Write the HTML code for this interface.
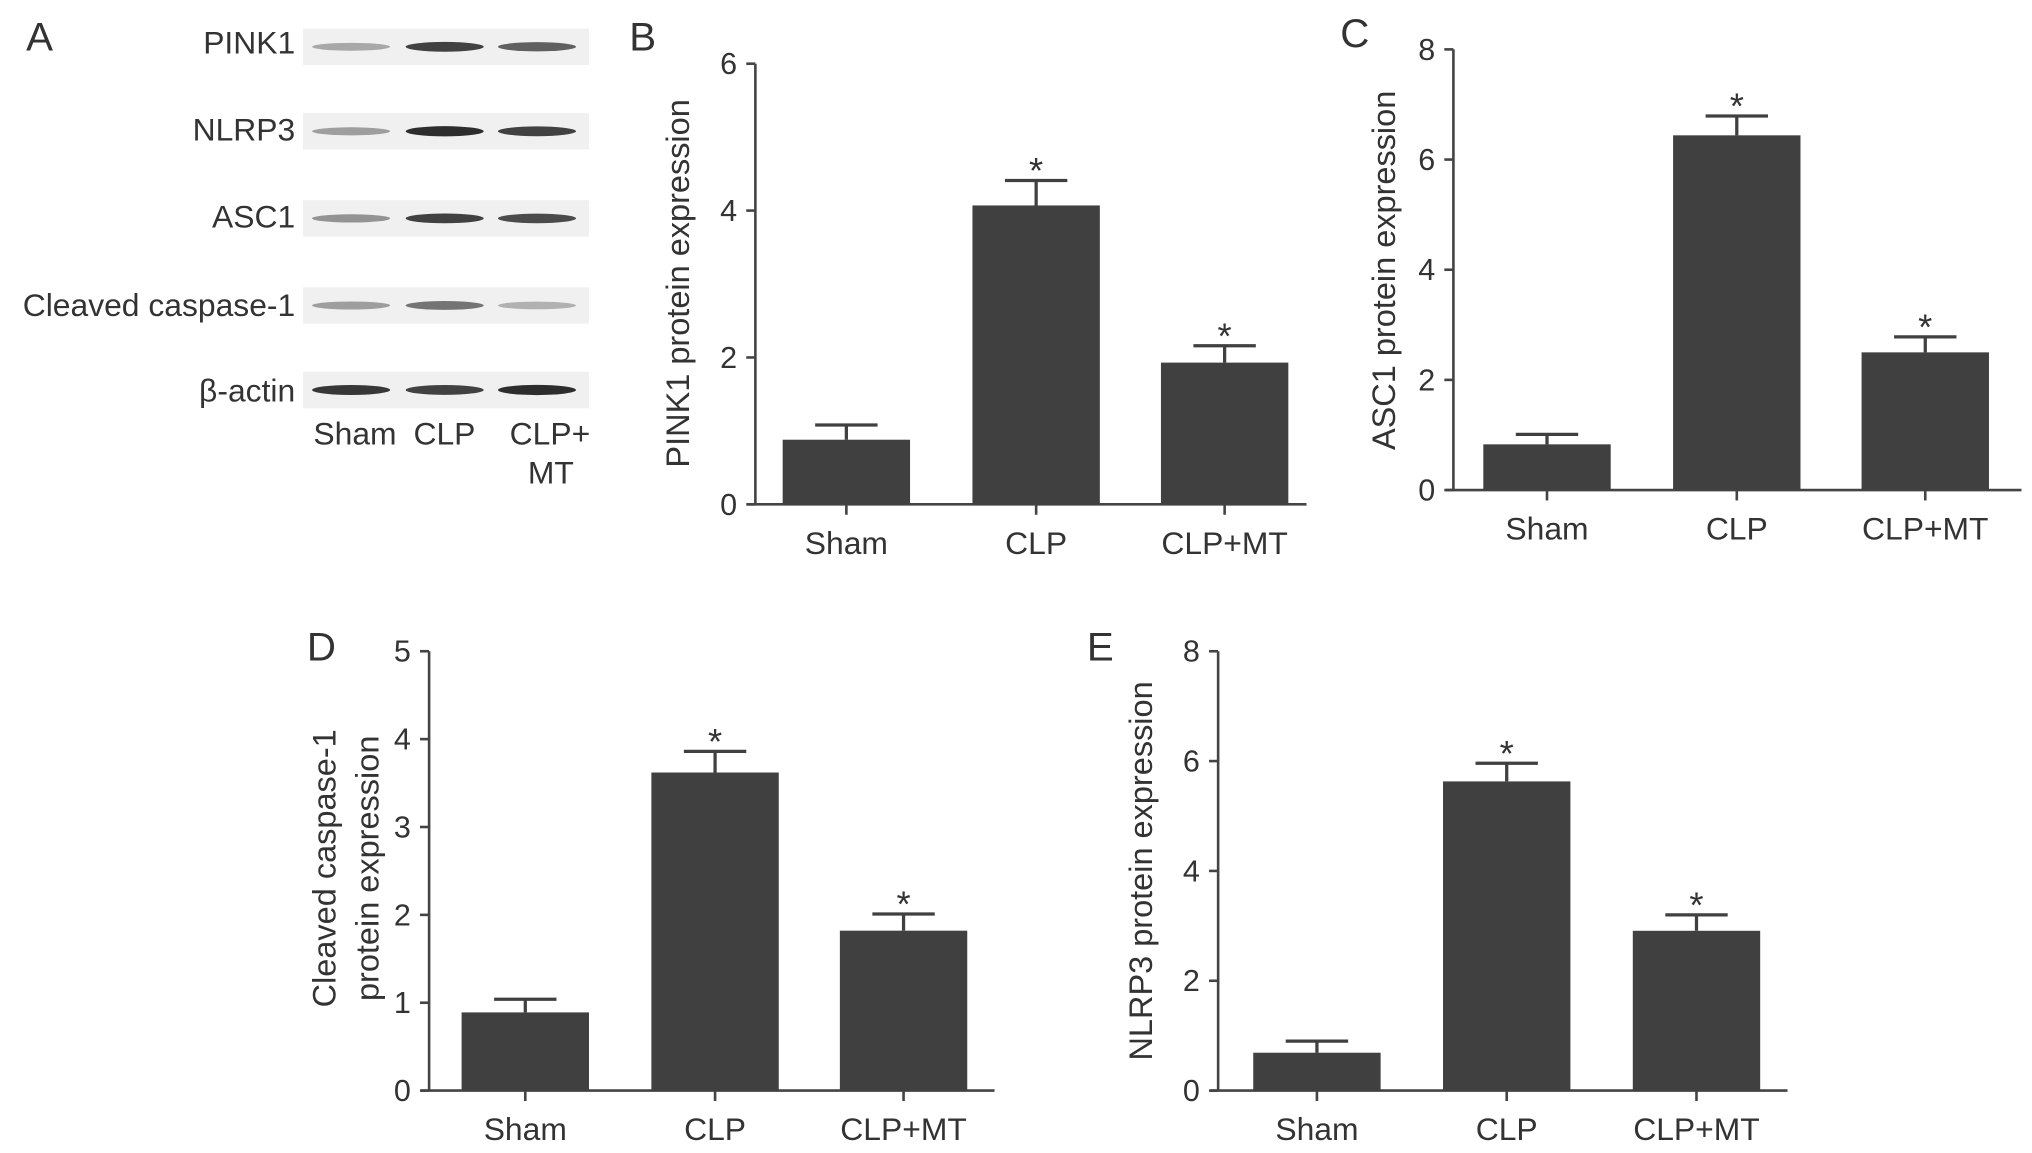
<!DOCTYPE html>
<html><head><meta charset="utf-8"><style>
html,body{margin:0;padding:0;background:#fff;}
svg{display:block;font-family:"Liberation Sans",sans-serif;}
</style></head><body>
<svg id="fig" width="2032" height="1153" viewBox="0 0 1563 887" xmlns="http://www.w3.org/2000/svg">
<g fill="#333" font-size="24.5">
<text x="20" y="39" font-size="31">A</text>
<text x="227" y="41" text-anchor="end">PINK1</text>
<text x="227" y="108" text-anchor="end">NLRP3</text>
<text x="227" y="175" text-anchor="end">ASC1</text>
<text x="227" y="243" text-anchor="end">Cleaved caspase-1</text>
<text x="227" y="309" text-anchor="end">β-actin</text>
<g id="blots"></g>
<text x="241" y="342">Sham</text>
<text x="318" y="342">CLP</text>
<text x="392" y="342">CLP+</text>
<text x="406" y="372">MT</text>
</g>
</svg>
<script>
const NS="http://www.w3.org/2000/svg";
const svg=document.getElementById('fig');
const categories=["Sham","CLP","CLP+MT"];
const pinkValues=[0.88,4.07,1.93];
const pinkErrors=[0.20,0.34,0.23];
const ascValues=[0.83,6.44,2.50];
const ascErrors=[0.18,0.35,0.28];
const caspValues=[0.89,3.62,1.82];
const caspErrors=[0.15,0.24,0.19];
const nlrpValues=[0.69,5.63,2.91];
const nlrpErrors=[0.21,0.33,0.29];
const pinkTicks=[0,2,4,6];
const ascTicks=[0,2,4,6,8];
const caspTicks=[0,1,2,3,4,5];
const nlrpTicks=[0,2,4,6,8];
const blotIntensity=[[0.35,0.85,0.7],[0.4,0.95,0.85],[0.45,0.85,0.8],[0.4,0.6,0.3],[0.9,0.85,0.95]];

function mk(tag,attrs,parent){const e=document.createElementNS(NS,tag);for(const k in attrs)e.setAttribute(k,attrs[k]);(parent||svg).appendChild(e);return e;}

const blots=document.getElementById('blots');
const blotY=[36,101,168,235,300];
const laneX=[270,342,413];
blotY.forEach((cy,i)=>{
  const r=mk('rect',{x:233,y:cy-14,width:220,height:28,fill:'#f0f0f0'},blots);
  
  
  laneX.forEach((lx,j)=>{
    const a=blotIntensity[i][j];
    const b=mk('ellipse',{cx:lx,cy:cy,rx:30,ry:2.5+a*1.5,fill:'#222','fill-opacity':a},blots);
    
    
  });
});

function chart(o){
  const g=mk('g',{});
  
  
  const ymax=o.ticks[o.ticks.length-1];
  const Y=v=>o.y0-(o.y0-o.ytop)*v/ymax;
  const X=i=>o.bx[i];
  const L=mk('text',{x:o.lx,y:o.ly,'font-size':31,fill:'#333'},g);L.textContent=o.letter;
  
  
  const ya=mk('line',{x1:o.ax,y1:o.ytop,x2:o.ax,y2:o.y0,stroke:'#444','stroke-width':2},g);
  
  
  const xa=mk('line',{x1:o.ax-6,y1:o.y0,x2:o.xend,y2:o.y0,stroke:'#444','stroke-width':2},g);
  
  
  o.ticks.forEach(t=>{
    const tk=mk('line',{x1:o.ax-7,y1:Y(t),x2:o.ax,y2:Y(t),stroke:'#444','stroke-width':2},g);
    
    
    const tl=mk('text',{x:o.ax-14,y:Y(t)+8,'font-size':23.5,'text-anchor':'end',fill:'#333'},g);
    tl.textContent=t;
    
    
  });
  o.values.forEach((v,i)=>{
    const cx=X(i)+49;
    const bar=mk('rect',{x:X(i),y:Y(v),width:98,height:o.y0-Y(v),fill:'#404040'},g);
    
    
    const e=v+o.errors[i];
    const el=mk('path',{d:`M${cx},${Y(v)}V${Y(e)}M${cx-24},${Y(e)}H${cx+24}`,stroke:'#404040','stroke-width':2.5,fill:'none'},g);
    
    
    if(i>0){
      const s=mk('text',{x:cx,y:Y(e)+2,'font-size':28,'text-anchor':'middle',fill:'#333'},g);
      s.textContent='*';
      
      
    }
    const xt=mk('line',{x1:cx,y1:o.y0,x2:cx,y2:o.y0+8,stroke:'#444','stroke-width':2},g);
    
    
    const xl=mk('text',{x:cx,y:o.y0+38,'font-size':24.5,'text-anchor':'middle',fill:'#333'},g);
    xl.textContent=categories[i];
    
    
  });
  o.ylabel.forEach((t,k)=>{
    const lx=o.ylx+k*33;
    const yl=mk('text',{x:lx,y:o.yly,'font-size':25,'text-anchor':'middle',fill:'#333',transform:`rotate(-90 ${lx} ${o.yly})`},g);
    yl.textContent=t;
    
    
  });
}
chart({name:'panel-b-chart',letter:'B',lx:484,ly:39,ax:581,y0:388,ytop:49,xend:1005,bx:[602,748,893],values:pinkValues,errors:pinkErrors,ticks:pinkTicks,ylabel:['PINK1 protein expression'],ylx:530,yly:218});
chart({name:'panel-c-chart',letter:'C',lx:1031,ly:36,ax:1118,y0:377,ytop:38,xend:1555,bx:[1141,1287,1432],values:ascValues,errors:ascErrors,ticks:ascTicks,ylabel:['ASC1 protein expression'],ylx:1073,yly:208});
chart({name:'panel-d-chart',letter:'D',lx:236,ly:508,ax:330,y0:839,ytop:501,xend:765,bx:[355,501,646],values:caspValues,errors:caspErrors,ticks:caspTicks,ylabel:['Cleaved caspase-1','protein expression'],ylx:258,yly:668});
chart({name:'panel-e-chart',letter:'E',lx:836,ly:508,ax:937,y0:839,ytop:501,xend:1375,bx:[964,1110,1256],values:nlrpValues,errors:nlrpErrors,ticks:nlrpTicks,ylabel:['NLRP3 protein expression'],ylx:886,yly:670});
</script>
</body></html>
